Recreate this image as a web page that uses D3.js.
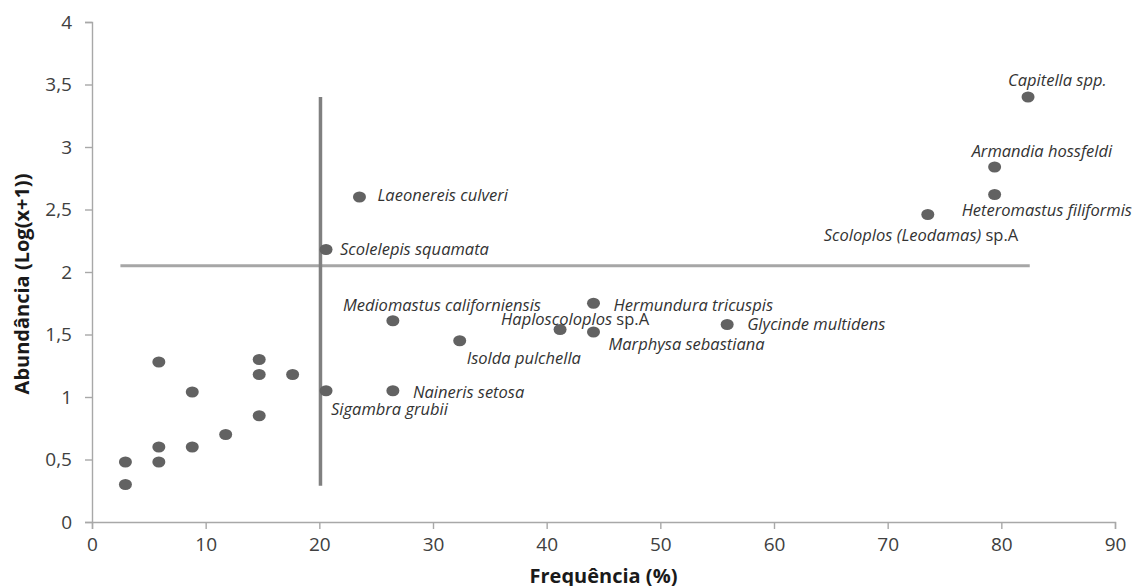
<!DOCTYPE html>
<html>
<head>
<meta charset="utf-8">
<script src="https://cdn.jsdelivr.net/npm/d3@7"></script>
<style>
  body { margin: 0; background: #fff; }
  #chart { width: 1142px; height: 586px; }
  text { font-family: "Open Sans", sans-serif; }
</style>
</head>
<body>
<div id="chart"></div>
<script>
// -------------------------------
// Data
// -------------------------------
const frequency = [2.94, 2.94, 5.88, 5.88, 5.88, 8.82, 8.82, 11.76, 14.71, 14.71, 14.71, 17.65,
  20.59, 26.47, 26.47, 23.53, 20.59, 32.35, 41.18, 44.12, 44.12, 55.88, 73.53, 79.41, 79.41, 82.35];
const abundance = [0.48, 0.30, 1.28, 0.60, 0.48, 1.04, 0.60, 0.70, 1.30, 1.18, 0.85, 1.18,
  1.05, 1.05, 1.61, 2.60, 2.18, 1.45, 1.54, 1.52, 1.75, 1.58, 2.46, 2.62, 2.84, 3.40];
const species = ["", "", "", "", "", "", "", "", "", "", "", "",
  "Sigambra grubii", "Naineris setosa", "Mediomastus californiensis", "Laeonereis culveri",
  "Scolelepis squamata", "Isolda pulchella", "Haploscoloplos| sp.A", "Marphysa sebastiana",
  "Hermundura tricuspis", "Glycinde multidens", "Scoloplos (Leodamas)| sp.A",
  "Heteromastus filiformis", "Armandia hossfeldi", "Capitella spp."];

const xTicks = [0, 10, 20, 30, 40, 50, 60, 70, 80, 90];
const yTicks = [0, 0.5, 1, 1.5, 2, 2.5, 3, 3.5, 4];

// reference lines
const vLine = { x: 20.1, y0: 0.29, y1: 3.4 };
const hLine = { y: 2.05, x0: 2.5, x1: 82.5 };

// label placement (pixel offsets from the point)
const labelOffset = {
  "Sigambra grubii": [5, 18],
  "Naineris setosa": [20, 1],
  "Mediomastus californiensis": [-50, -16],
  "Laeonereis culveri": [18, -2],
  "Scolelepis squamata": [14, 0],
  "Isolda pulchella": [7, 17],
  "Haploscoloplos| sp.A": [-59, -10],
  "Marphysa sebastiana": [15, 12],
  "Hermundura tricuspis": [20, 2],
  "Glycinde multidens": [20, 0],
  "Scoloplos (Leodamas)| sp.A": [-104, 21],
  "Heteromastus filiformis": [-33, 16],
  "Armandia hossfeldi": [-23, -16],
  "Capitella spp.": [-20, -17]
};

// -------------------------------
// Layout
// -------------------------------
const width = 1142, height = 586;
const margin = { top: 22, right: 27, bottom: 64, left: 92 };
const innerWidth = width - margin.left - margin.right;
const innerHeight = height - margin.top - margin.bottom;

const svg = d3.select("#chart").append("svg")
  .attr("width", width).attr("height", height);

const g = svg.append("g")
  .attr("transform", `translate(${margin.left},${margin.top})`);

// -------------------------------
// Scales
// -------------------------------
const x = d3.scaleLinear().domain([0, 90]).range([0, innerWidth]);
const y = d3.scaleLinear().domain([0, 4]).range([innerHeight, 0]);

// -------------------------------
// Axes
// -------------------------------
const xAxis = g.append("g")
  .attr("transform", `translate(0,${innerHeight})`)
  .call(d3.axisBottom(x).tickValues(xTicks).tickSize(7).tickPadding(9).tickFormat(d3.format("d")));

const yAxis = g.append("g")
  .call(d3.axisLeft(y).tickValues(yTicks).tickSize(7).tickPadding(13)
    .tickFormat(d => String(d).replace(".", ",")));

[xAxis, yAxis].forEach(ax => {
  ax.select(".domain").attr("stroke", "#a8a8a8").attr("stroke-width", 1.4);
  ax.selectAll(".tick line").attr("stroke", "#a8a8a8").attr("stroke-width", 1.4);
  ax.selectAll(".tick text").attr("fill", "#404040")
    .style("font-size", "19px").style("font-family", "Open Sans, sans-serif");
});

// -------------------------------
// Reference lines
// -------------------------------
g.append("line")
  .attr("x1", x(hLine.x0)).attr("x2", x(hLine.x1))
  .attr("y1", y(hLine.y)).attr("y2", y(hLine.y))
  .attr("stroke", "#a6a6a6").attr("stroke-width", 3);

g.append("line")
  .attr("x1", x(vLine.x)).attr("x2", x(vLine.x))
  .attr("y1", y(vLine.y0)).attr("y2", y(vLine.y1))
  .attr("stroke", "#808080").attr("stroke-width", 3.5);

// -------------------------------
// Points
// -------------------------------
const points = frequency.map((f, i) => ({ f, a: abundance[i], name: species[i] }));

g.selectAll("ellipse.pt").data(points).enter()
  .append("ellipse")
  .attr("class", "pt")
  .attr("cx", d => x(d.f))
  .attr("cy", d => y(d.a))
  .attr("rx", 6.5).attr("ry", 5.5)
  .attr("fill", "#626262");

// -------------------------------
// Labels
// -------------------------------
const labels = g.selectAll("text.lbl").data(points.filter(d => d.name)).enter()
  .append("text")
  .attr("class", "lbl")
  .attr("x", d => x(d.f) + labelOffset[d.name][0])
  .attr("y", d => y(d.a) + labelOffset[d.name][1])
  .attr("dy", "0.35em")
  .attr("fill", "#333")
  .style("font-size", "16.5px");

labels.each(function (d) {
  const parts = d.name.split("|");
  const t = d3.select(this);
  t.append("tspan").style("font-style", "italic").text(parts[0]);
  if (parts[1]) t.append("tspan").text(parts[1]);
});

// -------------------------------
// Axis titles
// -------------------------------
svg.append("text")
  .attr("x", margin.left + innerWidth / 2)
  .attr("y", 576)
  .attr("dy", "0.35em")
  .attr("text-anchor", "middle")
  .attr("fill", "#1a1a1a")
  .style("font-weight", "bold").style("font-size", "20px")
  .text("Frequência (%)");

svg.append("text")
  .attr("transform", "translate(22,284) rotate(-90)")
  .attr("dy", "0.35em")
  .attr("text-anchor", "middle")
  .attr("fill", "#1a1a1a")
  .style("font-weight", "bold").style("font-size", "20px")
  .text("Abundância (Log(x+1))");
</script>
</body>
</html>
